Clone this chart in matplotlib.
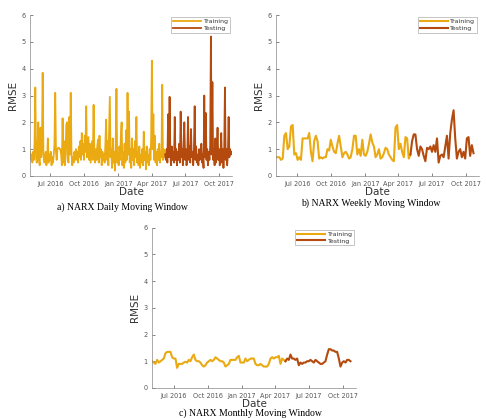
import numpy as np
import pandas as pd
import matplotlib
matplotlib.use("Agg")
import matplotlib.pyplot as plt
import matplotlib.dates as mdates

# Daily moving window: one value every 2 days
daily_start = "2016-05-07"
daily_train = [
    0.9, 0.6, 0.8, 0.5, 0.9, 0.6, 1.2, 3.3, 0.7, 0.5,
    1.0, 2.0, 0.6, 0.4, 1.8, 0.7, 1.1, 3.85, 0.8, 0.5,
    0.7, 0.9, 0.4, 0.6, 1.4, 0.5, 0.8, 0.6, 0.9, 0.4,
    0.7, 0.5, 0.8, 1.2, 3.1, 0.9, 0.6, 1.0, 1.05, 1.05,
    1.0, 1.0, 0.8, 0.4, 2.15, 0.5, 1.3, 0.4, 0.8, 1.9,
    2.0, 0.6, 0.5, 2.2, 0.8, 3.1, 0.9, 0.4, 0.7, 0.5,
    0.9, 0.6, 1.0, 0.6, 0.9, 0.5, 1.1, 0.7, 1.3, 0.6,
    1.6, 0.8, 1.2, 0.6, 1.5, 0.9, 2.6, 0.7, 1.1, 1.45,
    0.6, 1.2, 0.5, 0.9, 1.3, 0.6, 2.65, 0.9, 0.5, 1.0,
    0.6, 1.1, 1.35, 0.5, 1.5, 0.7, 1.0, 0.4, 0.9, 0.6,
    0.8, 0.5, 1.2, 2.1, 0.6, 1.3, 0.4, 1.6, 2.95, 0.7,
    1.0, 0.3, 1.4, 0.5, 0.9, 0.2, 1.2, 3.25, 0.5, 0.8,
    0.4, 1.1, 0.6, 1.5, 2.0, 0.4, 0.9, 0.3, 1.2, 0.5,
    1.7, 0.6, 3.1, 0.8, 2.4, 0.5, 1.0, 0.3, 1.4, 0.6,
    1.0, 0.4, 1.3, 0.7, 2.2, 0.5, 0.9, 0.4, 1.1, 0.3,
    0.8, 0.5, 1.0, 0.4, 1.65, 0.6, 0.9, 0.25, 1.1, 0.5,
    0.8, 0.4, 1.0, 0.6, 1.4, 4.3, 1.0, 2.3, 0.6, 1.5,
    0.5, 0.9, 0.4, 1.0, 0.6, 1.2, 0.5, 0.9, 0.7, 3.4,
    0.6, 1.0, 0.7, 0.8,
]
daily_test = [
    0.8, 0.6, 1.0, 0.5, 2.3, 0.7, 2.95,
    0.8, 0.4, 1.1, 0.6, 0.9, 0.5, 2.2, 0.6, 1.0, 0.4,
    0.9, 0.6, 1.2, 0.5, 2.4, 0.7, 1.0, 0.4, 1.3, 2.0,
    0.6, 1.0, 0.4, 0.8, 2.2, 0.6, 1.1, 0.5, 1.75, 0.7,
    0.9, 0.4, 1.0, 2.6, 0.6, 1.1, 0.5, 0.8, 0.4, 1.0,
    0.6, 0.9, 1.2, 0.5, 0.8, 0.3, 3.0, 0.7, 2.35, 0.6,
    1.0, 0.4, 0.9, 0.6, 1.1, 5.2, 0.8, 3.5, 0.6, 1.0,
    0.4, 1.4, 0.5, 0.9, 1.8, 0.6, 1.0, 0.4, 0.8, 1.6,
    0.5, 1.0, 0.3, 0.9, 3.3, 0.6, 1.0, 0.4, 0.8, 2.2,
    0.7, 1.0, 0.8, 0.9,
]

# Weekly moving window: one value every 4.5 days
weekly_start = "2016-05-04"
weekly_train = [
    0.7, 0.7, 0.7, 0.6, 0.65, 1.5, 1.6, 1.0, 1.1, 1.85,
    1.9, 0.8, 0.85, 0.6, 0.7, 0.6, 1.4, 1.4, 1.4, 1.4,
    1.6, 0.9, 0.55, 1.3, 1.5, 1.3, 0.65, 0.7, 0.65, 0.7,
    0.7, 1.0, 0.95, 1.35, 1.1, 0.9, 0.85, 1.2, 1.5, 1.1,
    0.7, 0.85, 0.9, 0.8, 0.65, 0.7, 1.0, 1.5, 1.5, 0.8,
    1.0, 0.75, 1.35, 0.8, 0.75, 0.9, 1.2, 1.55, 1.25, 1.1,
    0.7, 0.8, 1.0, 0.65, 0.7, 0.85, 1.05, 1.0, 0.8, 0.7,
    0.6, 0.55, 1.8, 1.9, 1.0, 1.2, 0.9, 0.7, 1.45, 1.4,
    0.65, 0.8,
]
weekly_test = [
    0.8, 1.3, 1.55, 1.55, 1.0, 0.75, 1.1, 1.0, 0.75, 0.55,
    1.05, 1.0, 1.1, 0.9, 1.15, 0.9, 1.4, 0.5, 0.75, 0.8,
    0.7, 1.1, 1.5, 0.65, 1.6, 2.1, 2.45, 1.4, 0.65, 0.9,
    1.0, 0.7, 0.9, 0.65, 1.4, 1.45, 0.75, 1.15, 0.85,
]

# Monthly moving window: one value every 4.5 days
monthly_start = "2016-05-04"
monthly_train = [
    1.0, 0.95, 0.9, 1.05, 0.95, 1.0, 1.05, 1.1, 1.3, 1.35,
    1.35, 1.35, 1.15, 1.1, 1.1, 0.75, 0.9, 0.9, 0.9, 0.95,
    0.98, 0.95, 1.05, 1.0, 1.15, 1.25, 1.05, 1.0, 1.0, 0.95,
    0.85, 0.8, 0.85, 0.95, 1.0, 1.05, 1.0, 1.05, 1.15, 1.1,
    1.05, 1.0, 1.0, 0.95, 0.8, 0.85, 0.9, 1.05, 1.05, 1.05,
    1.05, 1.15, 1.2, 0.95, 0.95, 0.95, 1.1, 1.0, 1.05, 1.1,
    1.1, 1.1, 0.9, 0.85, 0.85, 0.9, 0.85, 0.8, 0.8, 0.8,
    0.9, 1.1, 1.15, 1.1, 1.15, 1.15, 1.2, 0.9, 1.1, 1.05,
    1.0,
]
monthly_test = [
    1.0, 1.1, 1.05, 1.25, 1.1, 1.1, 1.05, 1.1, 0.85, 0.95,
    0.9, 0.95, 0.95, 1.0, 1.0, 1.05, 1.0, 0.95, 1.05, 1.0,
    0.95, 0.9, 0.9, 0.95, 1.0, 1.25, 1.45, 1.45, 1.4, 1.4,
    1.35, 1.35, 1.1, 0.8, 0.95, 1.0, 0.95, 1.05, 1.05, 1.0,
]

x_ticks = ["2016-07-01", "2016-10-01", "2017-01-01", "2017-04-01", "2017-07-01", "2017-10-01"]
captions = ["a) NARX Daily Moving Window", "b) NARX Weekly Moving Window",
            "c) NARX Monthly Moving Window"]

c_train = "#EBA912"
c_test = "#B44A0E"
grey = "#555555"


def zeitachse(start, step_days, n, offset=0):
    return pd.Timestamp(start) + pd.to_timedelta((np.arange(n) + offset) * step_days, unit="D")


def panel(ax, start, step, train, test, lw):
    x_tr = zeitachse(start, step, len(train))
    x_te = zeitachse(start, step, len(test), offset=len(train) - 1)
    ax.plot(x_tr, train, color=c_train, lw=lw, label="Training")
    ax.plot(x_te, test, color=c_test, lw=lw, label="Testing")
    ax.set_xlim(pd.Timestamp(start), pd.Timestamp("2017-11-06"))
    ax.set_ylim(0, 6)
    ax.set_yticks(range(7))
    ax.set_xticks(pd.to_datetime(x_ticks))
    ax.xaxis.set_major_formatter(mdates.DateFormatter("%b %Y"))
    ax.tick_params(labelsize=4.7, colors=grey, direction="in", length=2, width=0.5)
    for s in ["top", "right"]:
        ax.spines[s].set_visible(False)
    for s in ["left", "bottom"]:
        ax.spines[s].set_color("#888888")
        ax.spines[s].set_linewidth(0.5)
    ax.set_xlabel("Date", fontsize=7.5, color="#333333", labelpad=0)
    ax.set_ylabel("RMSE", fontsize=7.5, color="#333333", labelpad=2)
    leg = ax.legend(loc="upper right", fontsize=4.5, frameon=True, fancybox=False,
                    handlelength=4.5, borderpad=0.3, labelspacing=0.2, handletextpad=0.4,
                    borderaxespad=0.3)
    leg.get_frame().set_edgecolor("#999999")
    leg.get_frame().set_linewidth(0.5)
    for t in leg.get_texts():
        t.set_color("#333333")


fig = plt.figure(figsize=(4.86, 4.18), dpi=100)
ax_a = fig.add_axes([0.062, 0.579, 0.416, 0.385])
ax_b = fig.add_axes([0.568, 0.579, 0.418, 0.385])
ax_c = fig.add_axes([0.313, 0.072, 0.420, 0.383])

panel(ax_a, daily_start, 2, daily_train, daily_test, 1.3)
panel(ax_b, weekly_start, 4.5, weekly_train, weekly_test, 1.5)
panel(ax_c, monthly_start, 4.5, monthly_train, monthly_test, 1.5)

serif = ["Liberation Serif", "DejaVu Serif"]
fig.text(0.252, 1 - 207 / 418, captions[0], ha="center", va="center", fontsize=7, family=serif)
fig.text(0.762, 1 - 203 / 418, captions[1], ha="center", va="center", fontsize=7, family=serif)
fig.text(0.515, 1 - 413 / 418, captions[2], ha="center", va="center", fontsize=7, family=serif)

plt.savefig("out.png", dpi=100)
plt.close(fig)
